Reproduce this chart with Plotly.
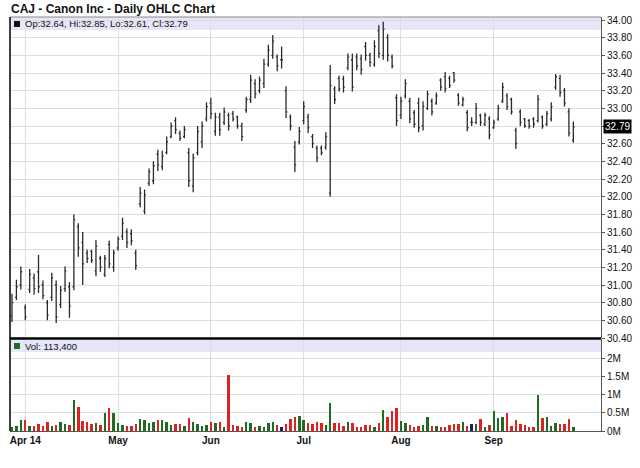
import pandas as pd
import plotly.graph_objects as go

# ---------------- data ----------------
holidays = ["2014-04-18", "2014-05-26", "2014-07-04", "2014-09-01"]
bdays = pd.bdate_range("2014-03-27", "2014-09-26")
dates = [d.strftime("%Y-%m-%d") for d in bdays if d.strftime("%Y-%m-%d") not in holidays]

opens = [30.65, 30.86, 31.00, 30.74, 30.95, 31.08, 31.15, 31.00, 30.80, 30.86,
         31.00, 30.78, 30.96, 30.98, 30.98, 31.66, 31.48, 31.36, 31.38, 31.16,
         31.30, 31.12, 31.46, 31.20, 31.42, 31.55, 31.60, 31.58, 31.36, 31.92,
         31.84, 32.15, 32.18, 32.48, 32.34, 32.50, 32.68, 32.86, 32.72, 32.68,
         32.50, 32.12, 32.50, 32.62, 32.88, 33.06, 32.74, 32.90, 32.84, 32.92,
         32.94, 32.90, 32.80, 32.98, 33.10, 33.28, 33.20, 33.28, 33.50, 33.60,
         33.58, 33.55, 33.20, 32.90, 32.56, 32.62, 32.86, 32.90, 32.68, 32.55,
         32.55, 32.56, 32.04, 33.22, 33.34, 33.33, 33.46, 33.55, 33.58, 33.56,
         33.70, 33.60, 33.50, 33.88, 33.60, 33.80, 33.58, 33.12, 32.92, 33.14,
         33.08, 32.95, 33.06, 32.80, 33.00, 33.08, 33.06, 33.32, 33.36, 33.34,
         33.40, 33.15, 33.04, 32.95, 32.84, 32.84, 32.92, 32.82, 32.88, 32.78,
         32.88, 33.08, 33.14, 33.10, 32.75, 32.96, 32.88, 32.86, 32.88, 32.86,
         32.90, 32.82, 32.88, 33.24, 33.34, 33.20, 32.96, 32.64]
highs = [30.90, 31.06, 31.21, 30.78, 31.18, 31.13, 31.34, 31.05, 30.83, 31.14,
         31.05, 30.99, 31.21, 31.03, 31.80, 31.70, 31.60, 31.40, 31.40, 31.51,
         31.33, 31.34, 31.50, 31.40, 31.55, 31.76, 31.64, 31.63, 31.40, 32.11,
         32.08, 32.32, 32.40, 32.53, 32.52, 32.68, 32.84, 32.90, 32.75, 32.80,
         32.55, 32.49, 32.80, 32.85, 33.07, 33.12, 32.95, 32.95, 33.01, 32.95,
         32.97, 32.92, 32.84, 33.13, 33.38, 33.33, 33.36, 33.56, 33.72, 33.83,
         33.61, 33.70, 33.25, 32.93, 32.63, 32.79, 33.08, 32.94, 32.71, 32.58,
         32.58, 32.73, 33.49, 33.25, 33.37, 33.37, 33.62, 33.62, 33.62, 33.61,
         33.75, 33.63, 33.77, 33.94, 33.98, 33.84, 33.61, 33.16, 33.13, 33.33,
         33.12, 32.98, 33.12, 33.08, 33.20, 33.11, 33.18, 33.34, 33.41, 33.37,
         33.41, 33.17, 33.13, 32.98, 32.90, 33.06, 32.94, 32.95, 32.91, 32.87,
         33.04, 33.29, 33.17, 33.12, 32.78, 32.99, 32.89, 32.88, 32.90, 33.15,
         32.92, 32.97, 33.07, 33.39, 33.38, 33.23, 33.00, 32.85]
lows = [30.58, 30.83, 30.95, 30.60, 30.91, 30.89, 30.91, 30.84, 30.60, 30.82,
        30.57, 30.74, 30.92, 30.63, 30.94, 31.32, 31.00, 31.25, 31.25, 31.10,
        31.15, 31.09, 31.19, 31.15, 31.39, 31.51, 31.42, 31.45, 31.17, 31.88,
        31.80, 32.12, 32.14, 32.29, 32.30, 32.48, 32.66, 32.71, 32.63, 32.66,
        32.11, 32.05, 32.47, 32.55, 32.85, 32.88, 32.69, 32.69, 32.81, 32.75,
        32.85, 32.77, 32.63, 32.95, 33.06, 33.11, 33.17, 33.23, 33.47, 33.56,
        33.42, 33.45, 32.89, 32.75, 32.28, 32.59, 32.82, 32.72, 32.55, 32.39,
        32.47, 32.53, 32.00, 33.05, 33.19, 33.18, 33.43, 33.19, 33.43, 33.38,
        33.54, 33.47, 33.47, 33.57, 33.55, 33.53, 33.45, 32.80, 32.88, 33.11,
        32.83, 32.78, 32.73, 32.75, 32.98, 32.92, 33.04, 33.20, 33.18, 33.23,
        33.29, 33.03, 33.02, 32.74, 32.80, 32.82, 32.80, 32.80, 32.65, 32.77,
        32.86, 33.06, 32.98, 32.93, 32.54, 32.80, 32.78, 32.77, 32.78, 32.84,
        32.77, 32.80, 32.85, 33.21, 33.13, 33.02, 32.68, 32.61]
closes = [30.80, 30.98, 31.15, 30.64, 31.12, 30.96, 30.98, 30.88, 30.66, 31.08,
          30.64, 30.94, 31.16, 30.76, 31.74, 31.42, 31.24, 31.30, 31.28, 31.44,
          31.20, 31.30, 31.24, 31.36, 31.52, 31.70, 31.48, 31.50, 31.22, 32.04,
          32.02, 32.28, 32.35, 32.36, 32.46, 32.62, 32.80, 32.76, 32.66, 32.76,
          32.18, 32.44, 32.74, 32.80, 33.02, 32.94, 32.90, 32.76, 32.96, 32.80,
          32.88, 32.80, 32.68, 33.10, 33.32, 33.16, 33.32, 33.50, 33.66, 33.76,
          33.48, 33.55, 32.96, 32.80, 32.36, 32.74, 33.02, 32.78, 32.60, 32.44,
          32.50, 32.68, 33.26, 33.10, 33.22, 33.24, 33.58, 33.24, 33.48, 33.44,
          33.60, 33.52, 33.70, 33.62, 33.90, 33.60, 33.48, 32.86, 33.08, 33.28,
          32.88, 32.82, 32.78, 33.02, 33.16, 32.96, 33.14, 33.24, 33.22, 33.26,
          33.32, 33.06, 33.10, 32.78, 32.84, 33.00, 32.84, 32.92, 32.70, 32.84,
          33.00, 33.24, 33.02, 32.96, 32.60, 32.84, 32.80, 32.80, 32.82, 33.10,
          32.80, 32.94, 33.02, 33.36, 33.18, 33.06, 32.72, 32.79]
volumes = [120000, 140000, 290000, 290000, 150000, 150000, 180000, 150000, 240000, 150000,
           170000, 240000, 180000, 170000, 850000, 650000, 270000, 250000, 200000, 210000,
           170000, 500000, 620000, 490000, 210000, 170000, 140000, 140000, 180000, 320000,
           290000, 210000, 240000, 290000, 290000, 240000, 170000, 200000, 200000, 150000,
           350000, 240000, 200000, 150000, 170000, 260000, 210000, 240000, 120000, 1540000,
           170000, 140000, 110000, 240000, 230000, 120000, 140000, 120000, 210000, 240000,
           170000, 120000, 200000, 320000, 390000, 410000, 290000, 210000, 190000, 240000,
           210000, 170000, 760000, 210000, 210000, 150000, 240000, 210000, 120000, 120000,
           170000, 170000, 120000, 210000, 580000, 390000, 550000, 620000, 280000, 210000,
           170000, 120000, 150000, 170000, 390000, 150000, 150000, 120000, 120000, 170000,
           180000, 180000, 240000, 150000, 180000, 200000, 320000, 120000, 170000, 550000,
           350000, 390000, 500000, 150000, 290000, 200000, 170000, 120000, 120000, 990000,
           350000, 390000, 150000, 210000, 190000, 190000, 320000, 113400]

month_ticks = ["2014-04-01", "2014-05-01", "2014-06-02", "2014-07-01", "2014-08-01", "2014-09-02"]
month_labels = ["Apr 14", "May", "Jun", "Jul", "Aug", "Sep"]
price_ticks = [round(30.40 + 0.2 * i, 2) for i in range(19)]
vol_ticks = [0, 500000, 1000000, 1500000, 2000000]
vol_labels = ["0M", "0.5M", "1M", "1.5M", "2M"]

# ---------------- styling ----------------
W, H = 640, 468
ML, MR, MT, MB = 10, 39, 17, 37
PW, PH = W - ML - MR, H - MT - MB


def px(x):
    """screen x -> paper x"""
    return (x - ML) / PW


def py(y):
    """screen y -> paper y"""
    return (H - MB - y) / PH


GREEN, RED, NAVY = "#1f6b1f", "#dd2222", "#1c1c6e"
vol_colors = [GREEN if c > o else (RED if c < o else NAVY) for o, c in zip(opens, closes)]
FONT = "Arial, Liberation Sans, sans-serif"
GRID = "#dedede"

last = len(closes) - 1
last_close = closes[last]
# the highlighted last-close label replaces the nearest regular price label
price_text = ["" if abs(v - last_close) < 0.1 else "%.2f" % v for v in price_ticks]

fig = go.Figure()
fig.add_trace(go.Ohlc(
    x=dates, open=opens, high=highs, low=lows, close=closes,
    xaxis="x", yaxis="y", tickwidth=0.3,
    increasing=dict(line=dict(color="#2a2a2a", width=1.3)),
    decreasing=dict(line=dict(color="#2a2a2a", width=1.3)),
    showlegend=False, hoverinfo="skip"))
fig.add_trace(go.Bar(
    x=dates, y=volumes, marker=dict(color=vol_colors, line=dict(width=0)),
    width=0.55, xaxis="x2", yaxis="y2", showlegend=False, hoverinfo="skip"))

price_dom = [py(338), 1]
vol_dom = [0, py(339)]
xr = [-0.45, 133.26]

fig.update_layout(
    width=W, height=H, margin=dict(l=ML, r=MR, t=MT, b=MB, autoexpand=False),
    paper_bgcolor="white", plot_bgcolor="white",
    font=dict(family=FONT, size=10, color="#111"),
    xaxis=dict(domain=[0, 1], anchor="y", type="category", range=xr, automargin=False,
               tickvals=month_ticks, ticktext=month_labels, showticklabels=False,
               showgrid=True, gridcolor=GRID, zeroline=False, showline=False,
               rangeslider=dict(visible=False), ticks=""),
    xaxis2=dict(domain=[0, 1], anchor="y2", type="category", range=xr, matches="x",
                automargin=False,
                tickvals=month_ticks, ticktext=month_labels, showticklabels=True,
                tickfont=dict(family=FONT, size=10, color="#111", weight="bold"),
                showgrid=True, gridcolor=GRID, zeroline=False, showline=True,
                linecolor="#555", linewidth=1, ticks=""),
    yaxis=dict(domain=price_dom, anchor="x", side="right", range=[30.40, 34.034],
               automargin=False,
               tickvals=price_ticks, ticktext=price_text, showgrid=True, gridcolor=GRID,
               zeroline=False, showline=True, linecolor="#555", linewidth=1,
               ticks="outside", ticklen=3, tickcolor="#555",
               tickfont=dict(family=FONT, size=10, color="#111")),
    yaxis2=dict(domain=vol_dom, anchor="x2", side="right", range=[0, 2530000],
                automargin=False,
                tickvals=vol_ticks, ticktext=vol_labels, showgrid=True, gridcolor=GRID,
                zeroline=False, showline=True, linecolor="#555", linewidth=1,
                ticks="outside", ticklen=3, tickcolor="#555",
                tickfont=dict(family=FONT, size=10, color="#111")),
    bargap=0,
)

BAND = "#e6e6f8"
shapes = [
    dict(type="rect", xref="paper", yref="paper", x0=0, x1=1, y0=py(30), y1=py(17),
         fillcolor=BAND, line=dict(width=0), layer="below"),
    dict(type="rect", xref="paper", yref="paper", x0=0, x1=1, y0=py(352), y1=py(340),
         fillcolor=BAND, line=dict(width=0), layer="below"),
    dict(type="line", xref="paper", yref="paper", x0=0, x1=1, y0=py(17), y1=py(17),
         line=dict(color="#888", width=1)),
    dict(type="line", xref="paper", yref="paper", x0=0, x1=1, y0=py(338.5), y1=py(338.5),
         line=dict(color="#000", width=2.5)),
    dict(type="line", xref="paper", yref="paper", x0=0, x1=0, y0=0, y1=1,
         line=dict(color="#000", width=1.5)),
    dict(type="rect", xref="paper", yref="paper", x0=px(14), x1=px(20), y0=py(27), y1=py(21),
         fillcolor="#111", line=dict(width=0)),
    dict(type="rect", xref="paper", yref="paper", x0=px(14), x1=px(20), y0=py(349), y1=py(343),
         fillcolor=GREEN, line=dict(width=0)),
]
fig.update_layout(shapes=shapes)

legend_txt = "Op:%.2f, Hi:%.2f, Lo:%.2f, Cl:%.2f" % (opens[last], highs[last], lows[last], closes[last])
vol_txt = "Vol: {:,}".format(volumes[last])

annotations = [
    dict(text="<b>CAJ - Canon Inc - Daily OHLC Chart</b>", xref="paper", yref="paper",
         x=px(9), y=py(9), xanchor="left", yanchor="middle", showarrow=False,
         font=dict(family=FONT, size=12, color="#111")),
    dict(text=legend_txt, xref="paper", yref="paper", x=px(23), y=py(24),
         xanchor="left", yanchor="middle", showarrow=False,
         font=dict(family=FONT, size=9.5, color="#111")),
    dict(text=vol_txt, xref="paper", yref="paper", x=px(23), y=py(346),
         xanchor="left", yanchor="middle", showarrow=False,
         font=dict(family=FONT, size=9.5, color="#111")),
    dict(text="%.2f" % last_close, xref="paper", yref="y", x=1, y=last_close,
         xanchor="left", yanchor="middle", xshift=2, showarrow=False,
         bgcolor="#000", borderpad=1,
         font=dict(family=FONT, size=10, color="#fff")),
]
fig.update_layout(annotations=annotations)

# remove the browser's default 8px page margin so the figure fills the window exactly
fig.write_html("out.html", config={"displayModeBar": False},
               post_script="document.body.style.margin='0';document.body.style.overflow='hidden';")
